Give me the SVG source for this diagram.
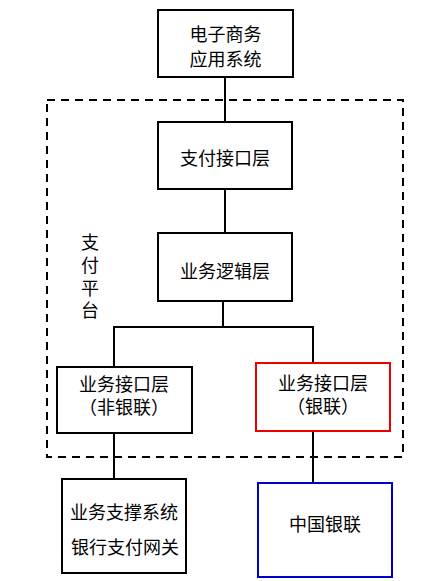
<svg xmlns="http://www.w3.org/2000/svg" width="434" height="581" viewBox="0 0 434 581">
<style>
.box{fill:#fff;stroke:#000;stroke-width:2}
.t{font-family:"Liberation Sans","Noto Sans CJK SC",sans-serif;font-size:18px;fill:#000;text-anchor:middle;dominant-baseline:central}
.c{stroke:#000;stroke-width:2;fill:none}
</style>
<rect width="434" height="581" fill="#fff"/>
<g id="platform">
<rect x="47" y="100" width="356" height="357" fill="none" stroke="#000" stroke-width="2" stroke-dasharray="8,6"/>
<text class="t" x="90" y="243">支</text>
<text class="t" x="90" y="266">付</text>
<text class="t" x="90" y="289">平</text>
<text class="t" x="90" y="311">台</text>
</g>
<g id="connectors">
<line class="c" x1="225" y1="77" x2="225" y2="122"/>
<line class="c" x1="225" y1="189" x2="225" y2="233"/>
<line class="c" x1="223" y1="301" x2="223" y2="327"/>
<polyline class="c" points="114,367 114,327 313,327 313,363"/>
<line class="c" x1="114" y1="433" x2="114" y2="479"/>
<line class="c" x1="313" y1="431" x2="313" y2="483"/>
</g>
<g id="ecommerce">
<rect class="box" x="158" y="10" width="135" height="67"/>
<text class="t" x="225.5" y="35">电子商务</text>
<text class="t" x="225.5" y="60">应用系统</text>
</g>
<g id="payif">
<rect class="box" x="158" y="122" width="134" height="67"/>
<text class="t" x="225" y="159">支付接口层</text>
</g>
<g id="logic">
<rect class="box" x="158" y="233" width="134" height="68"/>
<text class="t" x="225" y="272">业务逻辑层</text>
</g>
<g id="nonunion">
<rect class="box" x="57" y="367" width="135" height="66"/>
<text class="t" x="124" y="385">业务接口层</text>
<text class="t" x="124" y="408">（非银联）</text>
</g>
<g id="union">
<rect x="256" y="363" width="134" height="68" fill="#fff" stroke="#e00" stroke-width="2"/>
<text class="t" x="323" y="384">业务接口层</text>
<text class="t" x="323" y="407">（银联）</text>
</g>
<g id="support">
<rect class="box" x="62" y="479" width="124" height="94"/>
<text class="t" x="124" y="513">业务支撑系统</text>
<text class="t" x="125" y="548">银行支付网关</text>
</g>
<g id="cup">
<rect x="258" y="483" width="134" height="94" fill="#fff" stroke="#00c" stroke-width="2"/>
<text class="t" x="325" y="525">中国银联</text>
</g>
</svg>
